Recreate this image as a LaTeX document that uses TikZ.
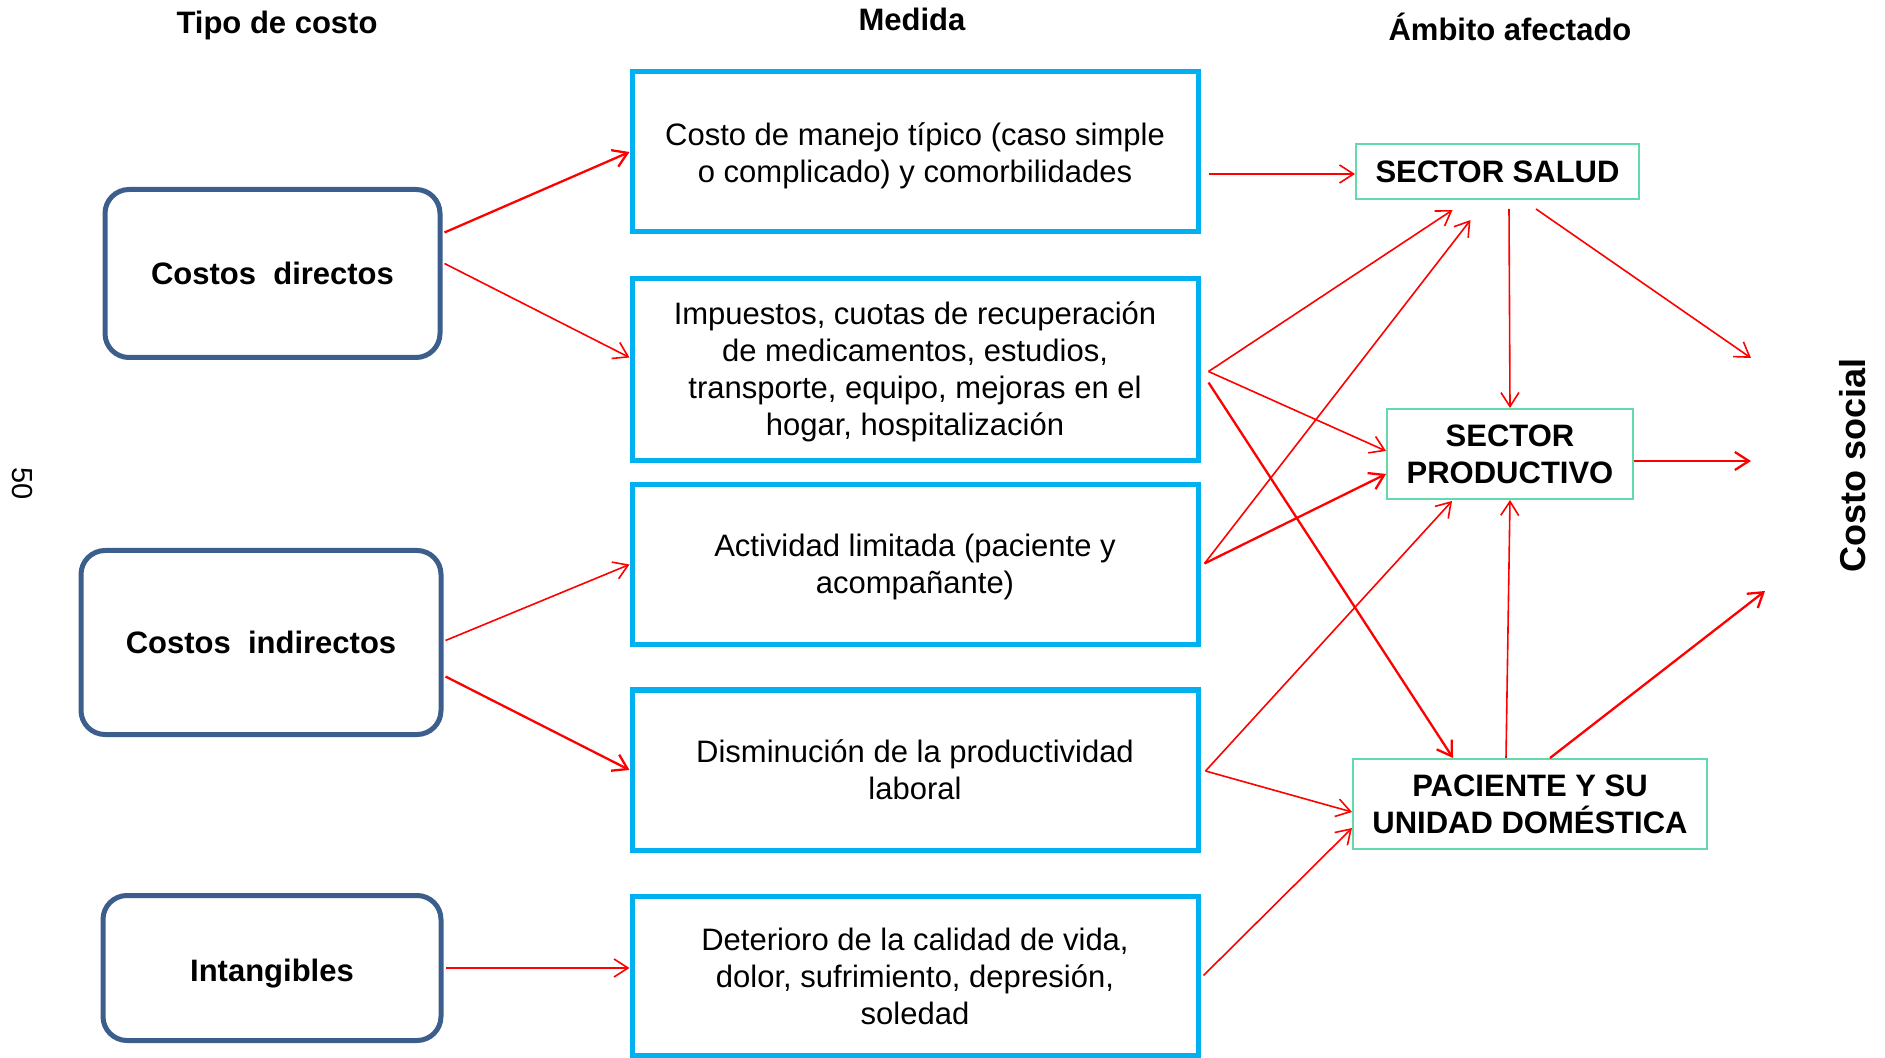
\documentclass[tikz,border=0pt]{standalone}
\usepackage{fontspec}
\setmainfont{Liberation Sans}
\usetikzlibrary{arrows.meta,calc}
\definecolor{boxblue}{RGB}{59,94,140}
\definecolor{medcyan}{RGB}{0,176,240}
\definecolor{ambgreen}{RGB}{100,218,172}
\definecolor{arrred}{RGB}{255,0,0}
\begin{document}
\begin{tikzpicture}[x=0.5pt,y=-0.5pt,
  txt/.style={font=\fontsize{15.5}{18.5}\selectfont, align=center, inner sep=0pt},
  tipobox/.style={txt, font=\fontsize{15.5}{18.5}\selectfont\bfseries, draw=boxblue, line width=2.5pt, rounded corners=12pt},
  medbox/.style={txt, draw=medcyan, line width=2.5pt},
  ambbox/.style={txt, font=\fontsize{15.5}{18.5}\selectfont\bfseries, draw=ambgreen, line width=1pt},
  header/.style={font=\fontsize{15.5}{18.5}\selectfont\bfseries, inner sep=0pt},
  inlabel/.style={label={[txt,yshift=-#1]center:\csname boxtext\endcsname}},
  arr/.style={draw=arrred, line width=0.8pt, -{Straight Barb[length=7pt,width=9pt]}},
  arrthick/.style={arr, line width=1.15pt}
]
\useasboundingbox (0,0) rectangle (1885,1058);

% headers
\node[header] (h1) at (277,25) {Tipo de costo};
\node[header] (h2) at (912,19) {Medida};
\node[header] (h3) at (1510,27) {Ámbito afectado};
\node[font=\fontsize{18}{21}\selectfont\bfseries, rotate=90, inner sep=0pt] (cs) at (1853,465) {Costo social};
\node[font=\fontsize{14.5}{17}\selectfont, rotate=-90, inner sep=0pt] (pg) at (22,484) {50};

% tipo de costo
\node[tipobox, minimum width=167.5pt, minimum height=84pt] (dir) at (272.5,273.5) {Costos\ \ directos};
\node[tipobox, minimum width=180pt, minimum height=92pt] (ind) at (261,642.5) {Costos\ \ indirectos};
\node[tipobox, minimum width=169pt, minimum height=72.5pt,
      label={[txt,font=\fontsize{15.5}{18.5}\selectfont\bfseries,yshift=-3pt]center:Intangibles}] (intg) at (272,968) {};

% medidas
\node[medbox, minimum width=283pt, minimum height=80pt,
      label={[txt,yshift=-1.8pt]center:{Costo de manejo típico (caso simple\\o complicado) y comorbilidades}}] (m1) at (915,152) {};
\node[medbox, minimum width=283pt, minimum height=91pt,
      label={[txt,yshift=-1.2pt]center:{Impuestos, cuotas de recuperación\\de medicamentos, estudios,\\transporte, equipo, mejoras en el\\hogar, hospitalización}}] (m2) at (915,369.5) {};
\node[medbox, minimum width=283pt, minimum height=80pt,
      label={[txt,yshift=-1.2pt]center:{Actividad limitada (paciente y\\acompañante)}}] (m3) at (915,564.5) {};
\node[medbox, minimum width=283pt, minimum height=80pt] (m4) at (915,770) {Disminución de la productividad\\laboral};
\node[medbox, minimum width=283pt, minimum height=79.5pt,
      label={[txt,yshift=-0.6pt]center:{Deterioro de la calidad de vida,\\dolor, sufrimiento, depresión,\\soledad}}] (m5) at (915,975.5) {};

% ambitos
\node[ambbox, minimum width=141.5pt, minimum height=27.5pt] (salud) at (1497.5,171.5) {SECTOR SALUD};
\node[ambbox, minimum width=123pt, minimum height=45pt] (prod) at (1510,454) {SECTOR\\PRODUCTIVO};
\node[ambbox, minimum width=177pt, minimum height=45pt] (pac) at (1530,804) {PACIENTE Y SU\\UNIDAD DOMÉSTICA};

% free ends toward costo social
\coordinate (cs1) at (1751,358);
\coordinate (cs2) at (1751,461);
\coordinate (cs3) at (1765,591);
\coordinate (s1) at ($(m1.east)+(8,22)$);

% tipo -> medida
\draw[arrthick] ($(dir.east)+(2,-41)$) -- (m1.west);
\draw[arr] ($(dir.east)+(2,-10)$) -- ($(m2.west)+(0,-12)$);
\draw[arr] ($(ind.east)+(2,-2)$) -- (m3.west);
\draw[arrthick] ($(ind.east)+(2,34)$) -- (m4.west);
\draw[arr] ($(intg.east)+(2,0)$) -- (intg.east -| m5.west);

% medida -> ambito
\draw[arr] (s1) -- (s1 -| salud.west);
\draw[arr] ($(m2.east)+(8,2)$) -- ($(salud.south)+(-45,10)$);
\draw[arr] ($(m2.east)+(8,2)$) -- ($(prod.west)+(0,-3)$);
\draw[arrthick] ($(m2.east)+(8,13)$) -- ($(pac.north)+(-77,0)$);
\draw[arr] ($(m3.east)+(4,-1)$) -- ($(salud.south)+(-27,20)$);
\draw[arrthick] ($(m3.east)+(4,-1)$) -- ($(prod.west)+(0,20)$);
\draw[arr] ($(m4.east)+(5,1)$) -- ($(prod.south)+(-58,1)$);
\draw[arr] ($(m4.east)+(5,1)$) -- ($(pac.west)+(0,8)$);
\draw[arr] ($(m5.east)+(3,0)$) -- ($(pac.west)+(0,24)$);

% ambito -> ambito / costo social
\draw[arr] ($(salud.south)+(11.5,9)$) -- (prod.north);
\draw[arr] ($(salud.south)+(38.5,9)$) -- (cs1);
\draw[arrthick] ($(prod.east)+(0,7)$) -- (cs2);
\draw[arr] ($(pac.north)+(-24,0)$) -- (prod.south);
\draw[arrthick] ($(pac.north)+(20,0)$) -- (cs3);
\end{tikzpicture}
\end{document}
